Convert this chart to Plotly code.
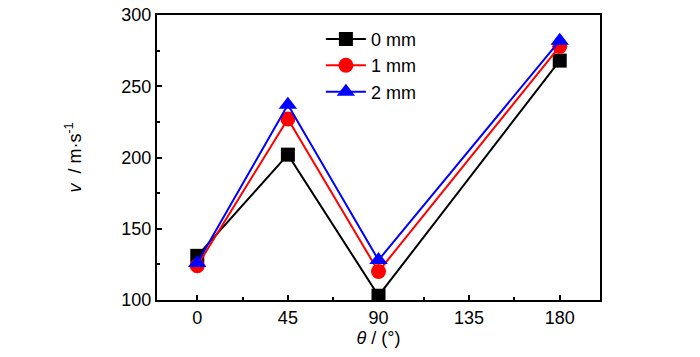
import plotly.graph_objects as go

theta = [0, 45, 90, 180]
v_0mm = [131, 202, 103, 268]
v_1mm = [124, 227, 120, 278]
v_2mm = [126, 237, 128, 282]
x_ticks = [0, 45, 90, 135, 180]
y_ticks = [100, 150, 200, 250, 300]

FONT = "Liberation Sans, Arial"

fig = go.Figure()
series = [
    ("0 mm", v_0mm, "black", "square", 14),
    ("1 mm", v_1mm, "red", "circle", 15),
    ("2 mm", v_2mm, "blue", "triangle-up", 16),
]
for name, vals, col, sym, sz in series:
    fig.add_trace(go.Scatter(
        x=theta, y=vals, name=name, mode="lines+markers",
        line=dict(color=col, width=2),
        marker=dict(symbol=sym, size=sz, color=col),
    ))

fig.update_layout(
    width=700, height=357,
    margin=dict(l=157, r=100, t=15, b=57),
    paper_bgcolor="white", plot_bgcolor="white",
    font=dict(family=FONT, size=18, color="black"),
    showlegend=True,
    legend=dict(x=0.37, y=0.98, xanchor="left", yanchor="top",
                bgcolor="rgba(0,0,0,0)", font=dict(size=18, family=FONT),
                itemwidth=40, tracegroupgap=0),
)
fig.update_xaxes(
    range=[-20, 200], tickvals=x_ticks, ticktext=[str(t) for t in x_ticks],
    showline=True, linecolor="black", linewidth=2, mirror=True,
    ticks="inside", ticklen=5, tickwidth=1.5, tickcolor="black",
    minor=dict(tickvals=[22.5, 67.5, 112.5, 157.5], ticks="inside", ticklen=3, tickcolor="black"),
    showgrid=False, zeroline=False, automargin=False,
    title=dict(text="<i>θ</i> / (°)", font=dict(size=18), standoff=4),
)
fig.update_yaxes(
    range=[100, 300], tickvals=y_ticks,
    showline=True, linecolor="black", linewidth=2, mirror=True,
    ticks="inside", ticklen=5, tickwidth=1.5, tickcolor="black",
    minor=dict(tickvals=[125, 175, 225, 275], ticks="inside", ticklen=3, tickcolor="black"),
    showgrid=False, zeroline=False, automargin=False,
    title=dict(text="<i>v</i>  / m·s<sup>-1</sup>", font=dict(size=18), standoff=35),
)

fig.write_html(
    "out.html",
    config={"displayModeBar": False},
    post_script="document.body.style.margin='0';document.body.style.overflow='hidden';",
)
